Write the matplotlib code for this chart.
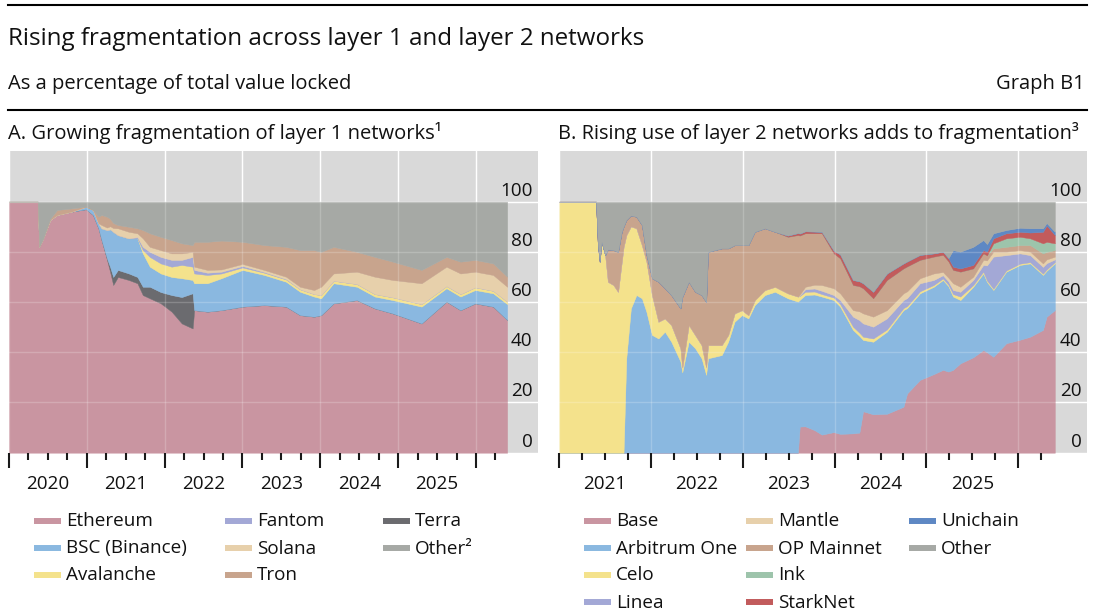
import numpy as np
import matplotlib
matplotlib.use('Agg')
import matplotlib.pyplot as plt
from matplotlib.lines import Line2D

plt.rcParams['font.family'] = ['Open Sans', 'DejaVu Sans']

# ---- panel A: layer 1 networks, share of TVL (%) ----
dates_a = [2020.00, 2020.37, 2020.39, 2020.44, 2020.53, 2020.62, 2020.80, 2020.99,
           2021.08, 2021.15, 2021.19, 2021.26, 2021.30, 2021.34, 2021.40, 2021.54,
           2021.65, 2021.72, 2021.81, 2021.95, 2022.09, 2022.22, 2022.36, 2022.38,
           2022.55, 2022.73, 2023.00, 2023.28, 2023.56, 2023.74, 2023.92, 2024.01,
           2024.17, 2024.47, 2024.70, 2024.93, 2025.30, 2025.62, 2025.80, 2025.99,
           2026.22, 2026.40]
ethereum = [100, 100, 82.0, 85.4, 92.7, 94.7, 96.0, 97.0,
            94.7, 89.4, 84.7, 76.8, 72.0, 66.8, 70.0, 68.8,
            67.5, 62.8, 61.5, 59.5, 56.2, 51.5, 49.5, 56.8,
            56.2, 56.8, 58.2, 58.8, 58.2, 54.8, 54.2, 54.8,
            59.5, 60.8, 57.5, 55.5, 51.5, 60.2, 56.8, 59.5,
            58.2, 52.9]
terra = [0, 0, 0, 0, 0, 0, 0, 0,
         0, 0, 0, 0.5, 2.0, 3.2, 2.8, 2.6,
         2.5, 3.3, 4.6, 4.5, 6.6, 10.5, 14.0, 0,
         0, 0, 0, 0, 0, 0, 0, 0,
         0, 0, 0, 0, 0, 0, 0, 0,
         0, 0]
bsc = [0, 0, 0, 0, 0, 0, 0, 1.0,
       2.0, 2.0, 4.7, 11.4, 15.0, 18.0, 13.9, 14.0,
       15.4, 13.3, 8.0, 7.4, 7.2, 7.5, 5.3, 10.7,
       11.3, 12.7, 14.6, 12.0, 9.9, 9.3, 8.0, 6.7,
       8.0, 5.3, 4.7, 5.3, 6.7, 5.3, 5.4, 5.3,
       5.3, 6.3]
avalanche = [0, 0, 0, 0, 0, 0, 0, 0,
             0, 0, 0, 0, 0, 0, 0, 0,
             0, 1.3, 3.9, 4.0, 4.1, 5.3, 5.3, 3.9,
             3.3, 1.9, 1.0, 0.9, 0.9, 1.0, 1.0, 1.3,
             1.0, 1.1, 1.0, 1.1, 1.0, 0.9, 1.0, 1.1,
             1.0, 1.0]
fantom = [0, 0, 0, 0, 0, 0, 0, 0,
          0, 0, 0, 0, 0, 0, 0, 0,
          0.5, 1.3, 2.0, 2.6, 2.7, 2.0, 3.9, 1.4,
          0.9, 0.7, 0.6, 0.3, 0.2, 0, 0, 0,
          0, 0, 0, 0, 0, 0, 0, 0,
          0, 0]
solana = [0, 0, 0, 0, 0, 0, 0, 0,
          0, 0, 1.3, 1.0, 1.2, 1.5, 2.7, 2.6,
          1.5, 3.4, 2.0, 2.7, 2.6, 2.6, 2.0, 1.3,
          1.1, 0.9, 0.8, 0.8, 0.9, 1.0, 1.6, 3.3,
          2.9, 4.9, 6.9, 6.9, 8.3, 7.7, 8.2, 6.2,
          6.3, 5.9]
tron = [0, 0, 0, 0, 0.5, 2.0, 1.3, 0,
        0, 2.6, 4.0, 4.3, 3.0, 2.0, 1.3, 2.0,
        2.0, 3.3, 5.4, 5.3, 5.3, 4.0, 2.7, 9.9,
        11.2, 11.5, 8.8, 9.9, 11.9, 14.6, 15.9, 13.9,
        10.6, 7.9, 7.9, 7.3, 5.3, 3.9, 4.7, 4.7,
        4.6, 4.0]

# ---- panel B: layer 2 networks, share of TVL (%) ----
dates_b = [2021.00, 2021.40, 2021.42, 2021.44, 2021.46, 2021.50, 2021.53, 2021.59,
           2021.64, 2021.68, 2021.70, 2021.73, 2021.78, 2021.84, 2021.90, 2021.95,
           2022.01, 2022.08, 2022.15, 2022.22, 2022.32, 2022.34, 2022.41, 2022.48,
           2022.55, 2022.60, 2022.62, 2022.77, 2022.84, 2022.91, 2022.99, 2023.06,
           2023.13, 2023.24, 2023.35, 2023.49, 2023.60, 2023.62, 2023.68, 2023.78,
           2023.86, 2023.99, 2024.06, 2024.20, 2024.27, 2024.31, 2024.42, 2024.57,
           2024.75, 2024.79, 2024.93, 2025.08, 2025.18, 2025.24, 2025.29, 2025.37,
           2025.51, 2025.62, 2025.66, 2025.73, 2025.87, 2026.02, 2026.13, 2026.27,
           2026.31, 2026.40]
base = [0, 0, 0, 0, 0, 0, 0, 0,
        0, 0, 0, 0, 0, 0, 0, 0,
        0, 0, 0, 0, 0, 0, 0, 0,
        0, 0, 0, 0, 0, 0, 0, 0,
        0, 0, 0, 0, 0, 10.4, 10.5, 9.0,
        7.2, 8.2, 7.5, 7.7, 8.0, 16.5, 15.3, 15.5,
        18.3, 23.6, 29.0, 31.3, 33.0, 32.3, 33.0, 35.6,
        38.0, 40.9, 40.0, 38.2, 43.6, 45.0, 46.2, 48.9,
        54.2, 56.8]
arbitrum = [0, 0, 0, 0, 0, 0, 0, 0,
            0, 0, 0, 37.6, 57.5, 62.8, 61.5, 56.0,
            46.9, 45.5, 48.2, 44.2, 36.3, 32.0, 44.2, 41.6,
            37.6, 31.0, 37.6, 38.9, 44.2, 52.2, 54.8, 53.5,
            58.8, 62.8, 64.1, 61.5, 60.2, 50.5, 52.3, 54.0,
            55.0, 52.6, 50.7, 41.2, 38.5, 28.4, 28.9, 32.7,
            38.5, 34.0, 34.5, 34.8, 35.8, 34.0, 29.2, 25.2,
            28.1, 30.5, 28.0, 26.6, 28.5, 29.8, 29.2, 21.9,
            18.3, 18.6]
celo = [100, 100, 82.7, 76.1, 84.0, 78.7, 68.1, 66.8,
        64.1, 76.1, 82.0, 49.1, 32.7, 26.6, 21.2, 20.1,
        15.9, 6.7, 5.3, 6.7, 5.3, 2.0, 6.7, 5.3,
        5.3, 3.0, 5.3, 4.0, 2.7, 3.3, 2.0, 1.3,
        2.0, 2.0, 2.0, 2.0, 2.0, 1.5, 1.3, 1.2,
        1.0, 1.0, 1.0, 1.3, 1.3, 1.3, 1.3, 0.9,
        0.8, 0.8, 0.8, 0.7, 0.6, 0.6, 1.0, 1.4,
        0.7, 0.7, 0.6, 0.5, 0.5, 0.5, 0.5, 0.5,
        0.5, 0.5]
linea = [0, 0, 0, 0, 0, 0, 0, 0,
         0, 0, 0, 0, 0, 0, 0, 0,
         0, 0, 0, 0, 0, 0, 0, 0,
         0, 0, 0, 0, 0, 0, 0, 0,
         0, 0, 0, 0, 0, 0.3, 1.0, 1.2,
         1.3, 1.0, 1.6, 4.0, 5.0, 5.3, 4.7, 4.4,
         3.2, 3.2, 3.2, 2.0, 1.3, 1.3, 1.6, 1.9,
         2.0, 2.7, 6.0, 12.8, 6.1, 4.1, 2.8, 2.7,
         2.5, 1.1]
mantle = [0, 0, 0, 0, 0, 0, 0, 0,
          0, 0, 0, 0, 0, 0, 0, 0,
          0, 0, 0, 0, 0, 0, 0, 0,
          0, 0, 0, 0, 0, 0, 0, 0,
          0, 0, 0, 0, 0, 0.3, 1.0, 1.5,
          2.3, 2.7, 2.7, 2.6, 3.5, 4.0, 4.0, 3.3,
          2.7, 2.7, 2.0, 2.6, 1.3, 1.5, 2.7, 2.0,
          1.3, 2.0, 2.0, 2.0, 1.4, 1.3, 1.4, 1.4,
          1.5, 1.1]
op_mainnet = [0, 0, 0, 0, 0, 0, 12.9, 13.9,
              15.9, 11.9, 8.0, 6.0, 4.3, 4.6, 8.0, 2.6,
              6.7, 15.9, 12.0, 11.9, 15.9, 28.0, 17.2, 17.2,
              19.9, 26.0, 37.1, 38.5, 34.5, 27.2, 25.9, 27.9,
              27.2, 24.6, 21.9, 22.5, 24.5, 23.5, 21.3, 20.5,
              20.6, 13.9, 13.9, 10.0, 10.0, 10.0, 7.3, 12.0,
              9.9, 9.9, 7.3, 6.7, 6.8, 6.5, 5.3, 6.0,
              3.3, 2.6, 2.0, 1.3, 1.9, 2.0, 2.6, 4.0,
              3.0, 2.6]
ink = [0] * 59 + [2.0, 3.4, 3.3, 2.7, 4.0, 4.0, 2.7]
starknet = [0, 0, 0, 0, 0, 0, 0, 0,
            0, 0, 0, 0, 0, 0, 0, 0,
            0, 0, 0, 0, 0, 0, 0, 0,
            0, 0, 0, 0, 0, 0, 0, 0,
            0, 0, 0, 0.5, 0.8, 0.8, 0.8, 0.7,
            0.6, 1.1, 1.6, 2.0, 2.0, 2.0, 2.6, 2.6,
            2.0, 2.0, 2.0, 1.3, 1.3, 1.3, 1.3, 1.3,
            1.4, 1.3, 1.5, 2.0, 2.0, 2.0, 2.3, 4.6,
            6.5, 3.3]
unichain = [0] * 54 + [6.6, 6.7, 7.2, 4.0, 3.0, 2.0, 1.3, 1.6, 1.7, 1.4, 1.0, 1.3]

names_a = ['Ethereum', 'BSC (Binance)', 'Avalanche', 'Fantom', 'Solana', 'Tron',
           'Terra', 'Other²']
names_b = ['Base', 'Arbitrum One', 'Celo', 'Linea', 'Mantle', 'OP Mainnet',
           'Ink', 'StarkNet', 'Unichain', 'Other']

PINK = '#c995a1'
BLUE = '#8ab8e0'
YELLOW = '#f4e28c'
PURPLE = '#a3a8d6'
TAN = '#e7d0ab'
BROWN = '#c8a48d'
TERRA = '#6b6b6f'
GREY = '#a6a9a5'
GREEN = '#9dc4ab'
RED = '#c25b5c'
DBLUE = '#5e88c4'
BG = '#d9d9d9'
INK_TXT = '#111111'

W, H = 1120, 616
FS = 13.6


def fx(px):
    return px / W


def fy(py):
    return 1 - py / H


def setup(ax, first_year, x_end):
    ax.set_facecolor(BG)
    ax.set_xlim(first_year, x_end)
    ax.set_ylim(0, 120.3)
    for s in ax.spines.values():
        s.set_visible(False)
    years = list(range(first_year, 2027))
    ax.set_xticks(years, labels=[''] * len(years))
    quarters, qlabels = [], []
    for y in years:
        for q in (0.25, 0.5, 0.75):
            if y + q < 2026.4:
                quarters.append(y + q)
                qlabels.append(str(y) if (q == 0.5 and y < 2026) else '')
    ax.set_xticks(quarters, labels=qlabels, minor=True)
    ax.tick_params(axis='x', which='major', length=11, width=1.5, color='#1a1a1a')
    ax.tick_params(axis='x', which='minor', length=5, width=1.5, color='#1a1a1a',
                   pad=11, labelsize=FS, labelcolor=INK_TXT)
    ax.set_yticks([])
    for v in range(0, 101, 20):
        ax.axhline(v, color='white', lw=1, zorder=0.5)
        ax.annotate(str(v), xy=(1, v), xycoords=('axes fraction', 'data'),
                    xytext=(-4, 1.5), textcoords='offset points',
                    ha='right', va='bottom', fontsize=FS, color=INK_TXT)
    for y in years:
        ax.axvline(y, color='white', lw=1, zorder=0.5)
        ax.axvline(y, color='white', lw=1, alpha=0.2, zorder=3)
    for v in range(20, 101, 20):
        ax.axhline(v, color='white', lw=1, alpha=0.2, zorder=3)


def stack(ax, dates, layers, colors):
    other = 100 - np.sum(layers, axis=0)
    polys = ax.stackplot(dates, *layers, other, colors=colors + [GREY])
    for p in polys:
        p.set_edgecolor(p.get_facecolor())
        p.set_linewidth(0.3)


def legend(names, colors, col_x, nrows):
    for i, (name, c) in enumerate(zip(names, colors)):
        col, row = divmod(i, nrows)
        x = col_x[col]
        y = 520.5 + row * 27
        fig.add_artist(Line2D([fx(x), fx(x + 27)], [fy(y), fy(y)], lw=4.3,
                              color=c, solid_capstyle='butt'))
        fig.text(fx(x + 32), fy(y + 1), name, va='center', fontsize=FS, color=INK_TXT)


fig = plt.figure(figsize=(11.2, 6.16), dpi=100)

ax_a = fig.add_axes([fx(8.9), fy(452.7), (538.3 - 8.9) / W, 302 / H])
ax_b = fig.add_axes([fx(559.3), fy(452.7), (1087 - 559.3) / W, 302 / H])

setup(ax_a, 2020, 2026.80)
setup(ax_b, 2021, 2026.75)

stack(ax_a, dates_a, [ethereum, terra, bsc, avalanche, fantom, solana, tron],
      [PINK, TERRA, BLUE, YELLOW, PURPLE, TAN, BROWN])
stack(ax_b, dates_b, [base, arbitrum, celo, linea, mantle, op_mainnet, ink, starknet, unichain],
      [PINK, BLUE, YELLOW, PURPLE, TAN, BROWN, GREEN, RED, DBLUE])

# headings
fig.add_artist(Line2D([fx(8), fx(1087)], [fy(5), fy(5)], lw=1.5, color='black'))
fig.add_artist(Line2D([fx(8), fx(1087)], [fy(110), fy(110)], lw=1.5, color='black'))
fig.text(fx(8), fy(39), 'Rising fragmentation across layer 1 and layer 2 networks',
         fontsize=17.4, va='center', color=INK_TXT)
fig.text(fx(8), fy(83.5), 'As a percentage of total value locked', fontsize=14.5,
         va='center', color=INK_TXT)
fig.text(fx(1085), fy(83.5), 'Graph B1', fontsize=14.5, va='center', ha='right',
         color=INK_TXT)
fig.text(fx(8), fy(133.5), 'A. Growing fragmentation of layer 1 networks¹', fontsize=14.5,
         va='center', color=INK_TXT)
fig.text(fx(558), fy(133.5), 'B. Rising use of layer 2 networks adds to fragmentation³',
         fontsize=14.4, va='center', color=INK_TXT)

legend(names_a, [PINK, BLUE, YELLOW, PURPLE, TAN, BROWN, TERRA, GREY], [34, 225, 383], 3)
legend(names_b, [PINK, BLUE, YELLOW, PURPLE, TAN, BROWN, GREEN, RED, DBLUE, GREY],
       [584, 746, 909], 4)

fig.savefig('out.png', dpi=100)
